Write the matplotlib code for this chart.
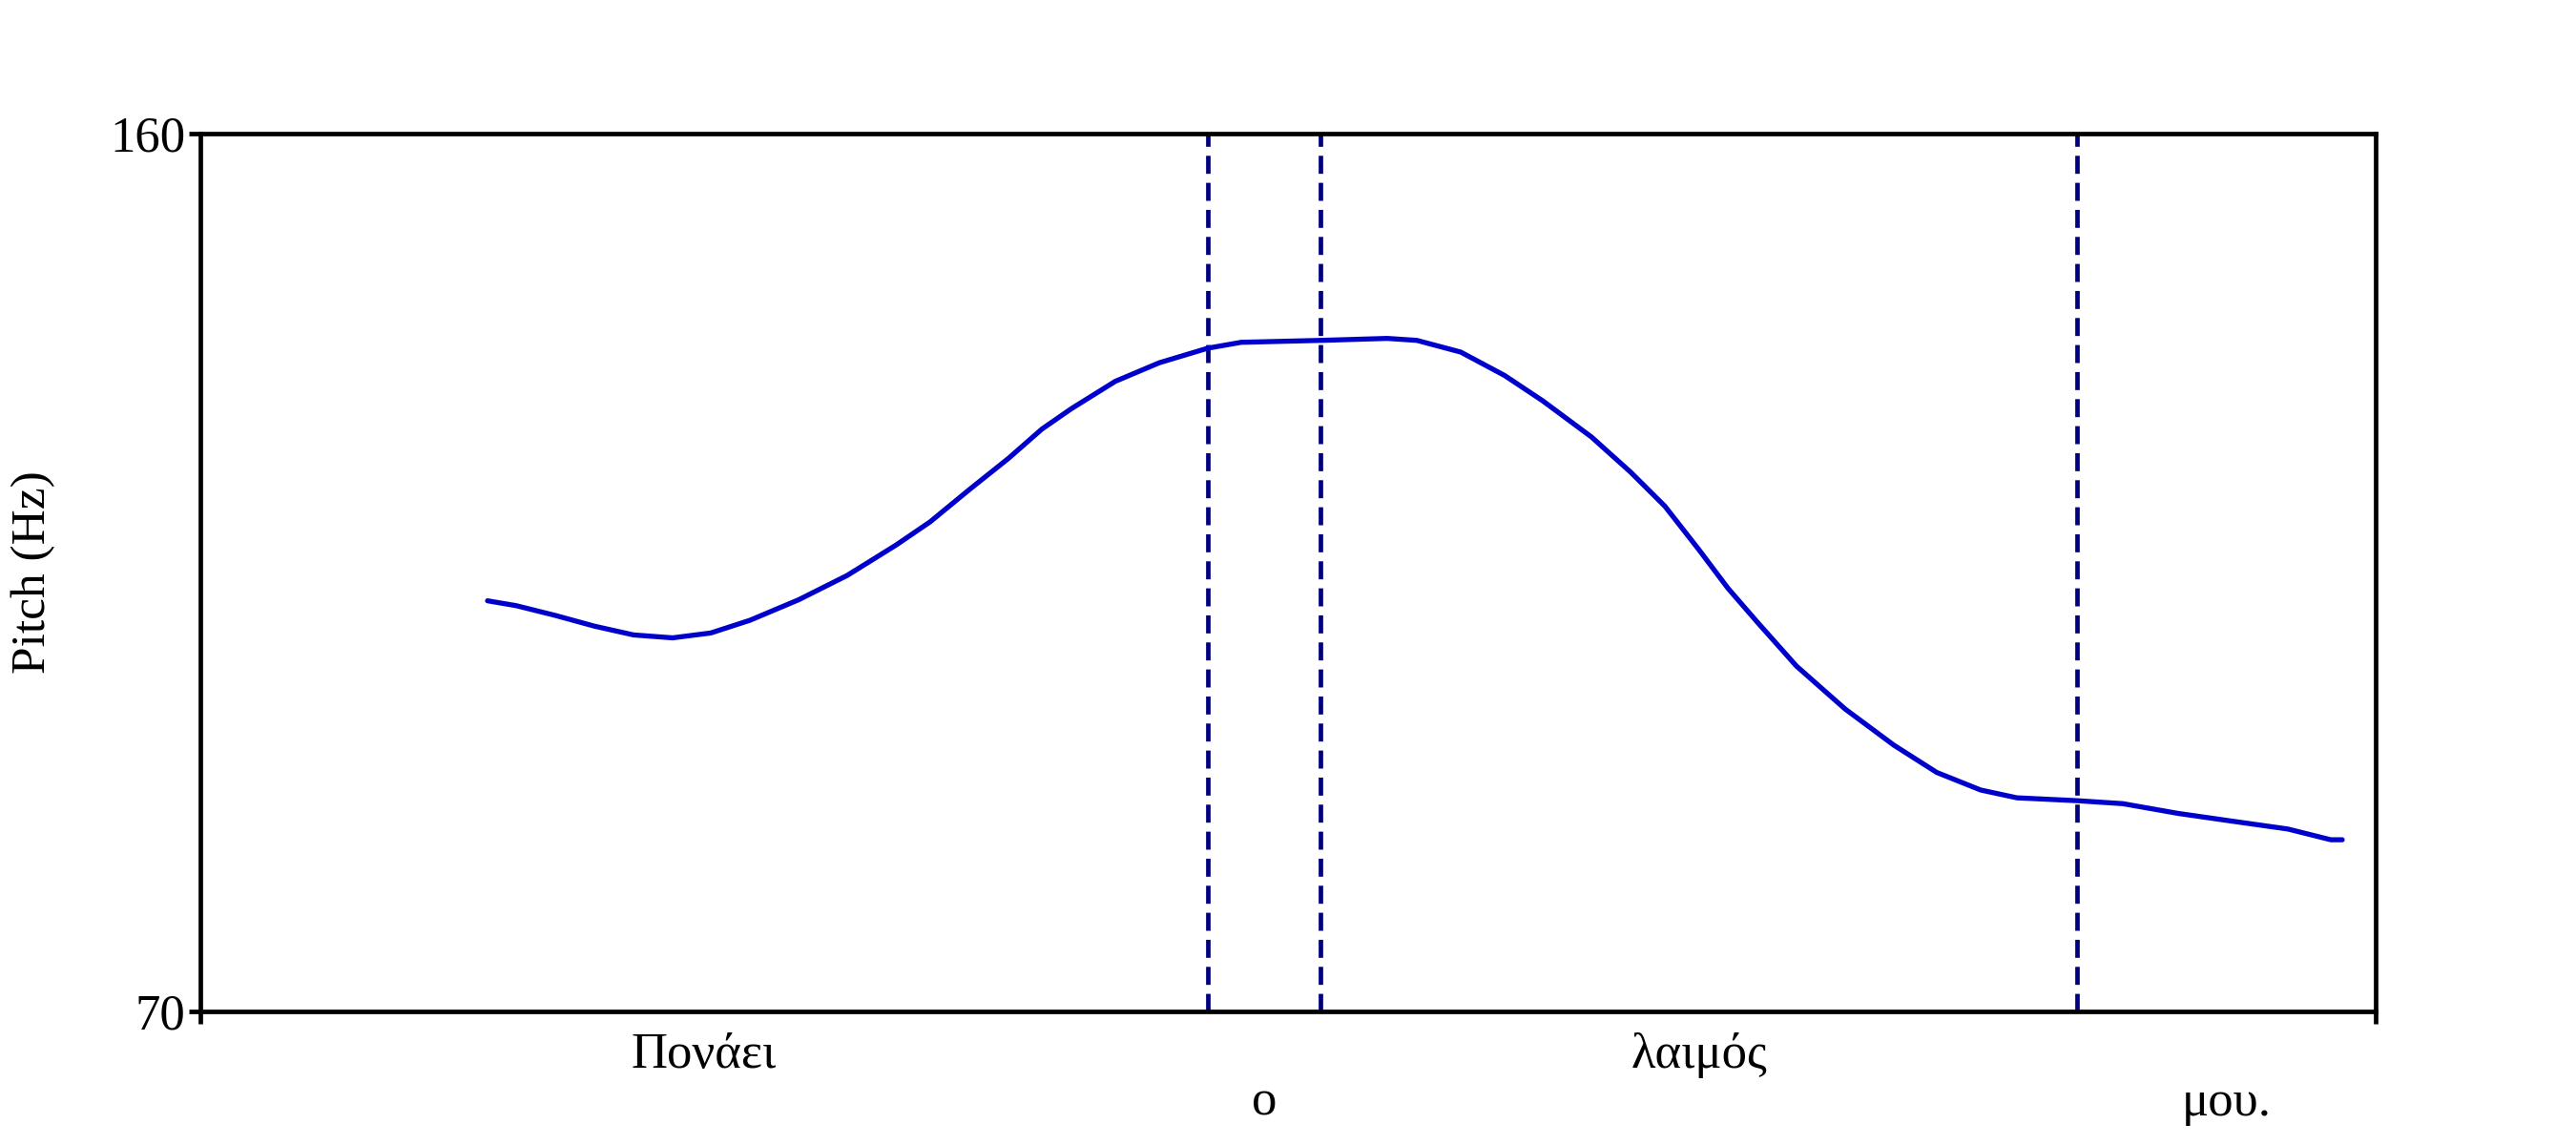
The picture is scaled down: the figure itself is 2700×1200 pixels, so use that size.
import matplotlib
matplotlib.use('Agg')
import matplotlib.pyplot as plt

# pitch contour, time [s] vs pitch [Hz]
t = [0.301, 0.331, 0.372, 0.413, 0.454, 0.495, 0.535, 0.576, 0.627, 0.678,
     0.729, 0.765, 0.806, 0.847, 0.882, 0.913, 0.959, 1.005, 1.056, 1.091,
     1.175, 1.244, 1.275, 1.321, 1.367, 1.407, 1.458, 1.499, 1.535, 1.571,
     1.601, 1.632, 1.673, 1.724, 1.775, 1.820, 1.866, 1.904, 1.968, 2.015,
     2.073, 2.130, 2.188, 2.233, 2.245]
pitch = [112.1, 111.6, 110.6, 109.5, 108.6, 108.3, 108.8, 110.1, 112.2, 114.7,
         117.8, 120.2, 123.5, 126.7, 129.7, 131.8, 134.6, 136.5, 138.0, 138.6,
         138.8, 139.0, 138.8, 137.6, 135.2, 132.6, 128.9, 125.3, 121.8, 117.3,
         113.4, 109.9, 105.4, 101.0, 97.3, 94.5, 92.7, 91.9, 91.6, 91.3,
         90.3, 89.5, 88.7, 87.6, 87.6]

# word boundaries and words
t_start, t_end = 0.0, 2.28
bounds = [1.056, 1.174, 1.967]
words = ['Πονάει', 'ο', 'λαιμός', 'μου.']

plt.rcParams['font.family'] = ['Liberation Serif', 'DejaVu Serif']

fig = plt.figure(figsize=(27, 12), dpi=100)
ax = fig.add_axes([210/2700, 1 - 1060/1200, 2280/2700, 920/1200])

ax.plot(t, pitch, color='#0000cc', lw=3.8, solid_capstyle='round', solid_joinstyle='round', zorder=3)
for b in bounds:
    ax.axvline(b, color='#00007f', lw=3.4, dashes=(4, 2), zorder=2)

ax.set_xlim(t_start, t_end)
ax.set_ylim(70, 160)
ax.set_yticks([70, 160])
ax.set_xticks([t_start, t_end])
ax.set_xticklabels([])
ax.tick_params(axis='both', direction='out', length=9, width=3.4, labelsize=38, pad=2)
for s in ax.spines.values():
    s.set_linewidth(3.4)
ax.set_ylabel('Pitch (Hz)', fontsize=37, va='center')
ax.yaxis.set_label_coords(-0.077, 0.5)

# words centered under their intervals, alternating rows
edges = [t_start] + bounds + [t_end]
for i, w in enumerate(words):
    mid = (edges[i] + edges[i+1]) / 2
    y = -0.05 if i % 2 == 0 else -0.104
    ax.text(mid, y, w, transform=ax.get_xaxis_transform(), ha='center', va='center', fontsize=38)

plt.savefig('out.png', dpi=100)
plt.close()
